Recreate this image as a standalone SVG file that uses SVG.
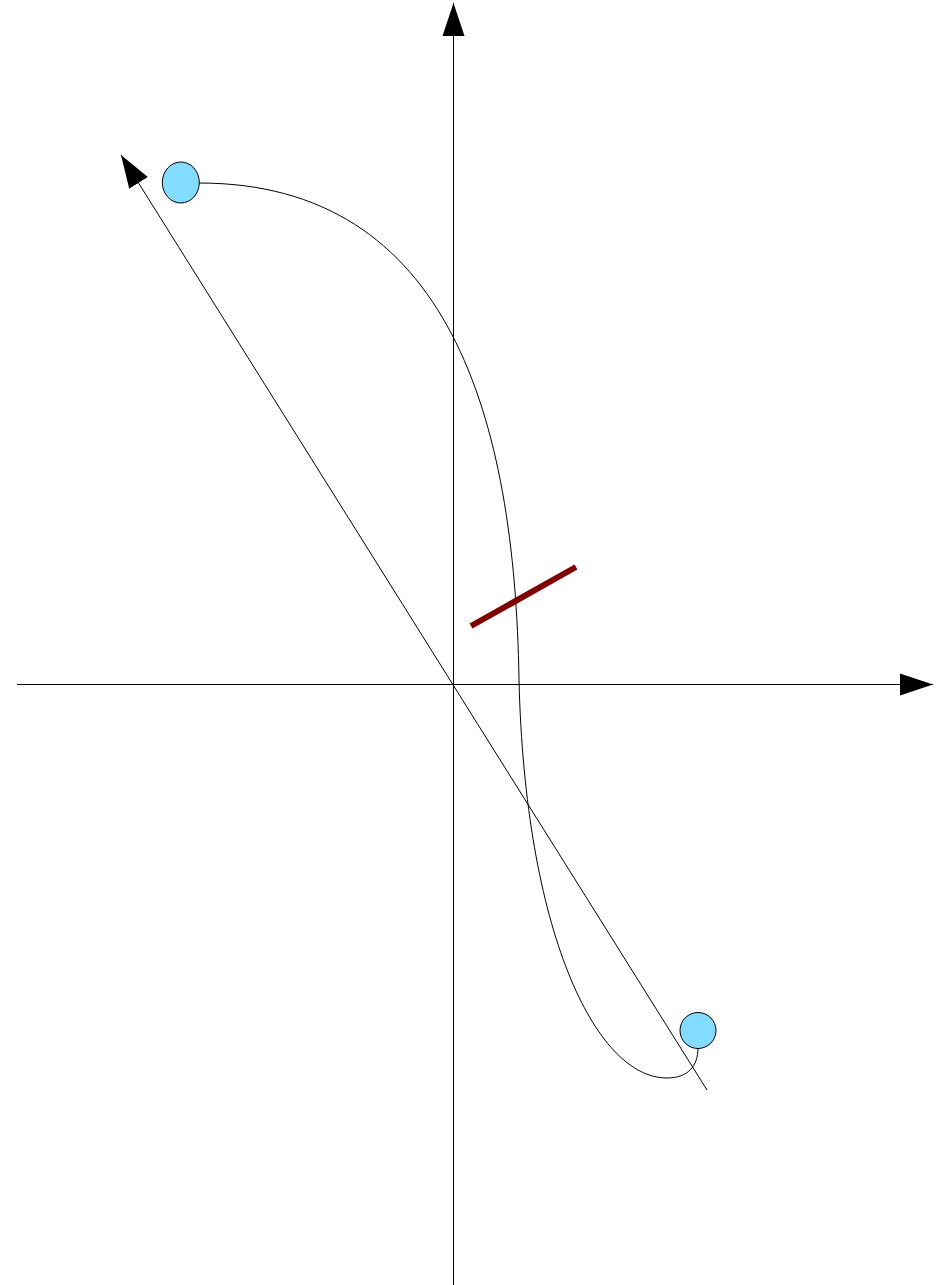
<svg xmlns="http://www.w3.org/2000/svg" width="940" height="1285" viewBox="0 0 940 1285">
<style>
.ln{fill:none;stroke:#000;stroke-width:1}
.node{fill:#83dbff;stroke:#000;stroke-width:1}
.bar{fill:none;stroke:#800000;stroke-width:6}
</style>
<defs>
<marker id="arr" markerUnits="userSpaceOnUse" markerWidth="34" markerHeight="24" viewBox="0 0 34 24" refX="33" refY="12" orient="auto">
<path d="M0,1 L33,12 L0,23 z" fill="#000"/>
</marker>
</defs>
<g id="connectors">
<line class="ln" x1="453.5" y1="1285" x2="453.5" y2="3" marker-end="url(#arr)"/>
<line class="ln" x1="17" y1="684.5" x2="933" y2="684.5" marker-end="url(#arr)"/>
<line class="ln" x1="707" y1="1090" x2="121" y2="155" marker-end="url(#arr)"/>
<path class="ln" d="M199,183 C450,183 515,420 519,680 C525,930 595,1078 667,1078 C688,1078 698,1066 698,1048"/>
<line class="bar" x1="471" y1="626" x2="576" y2="567"/>
</g>
<g id="node-top"><ellipse class="node" cx="180.8" cy="182.5" rx="18.5" ry="20.5"/></g>
<g id="node-bottom"><circle class="node" cx="698" cy="1030.5" r="18"/></g>
</svg>
